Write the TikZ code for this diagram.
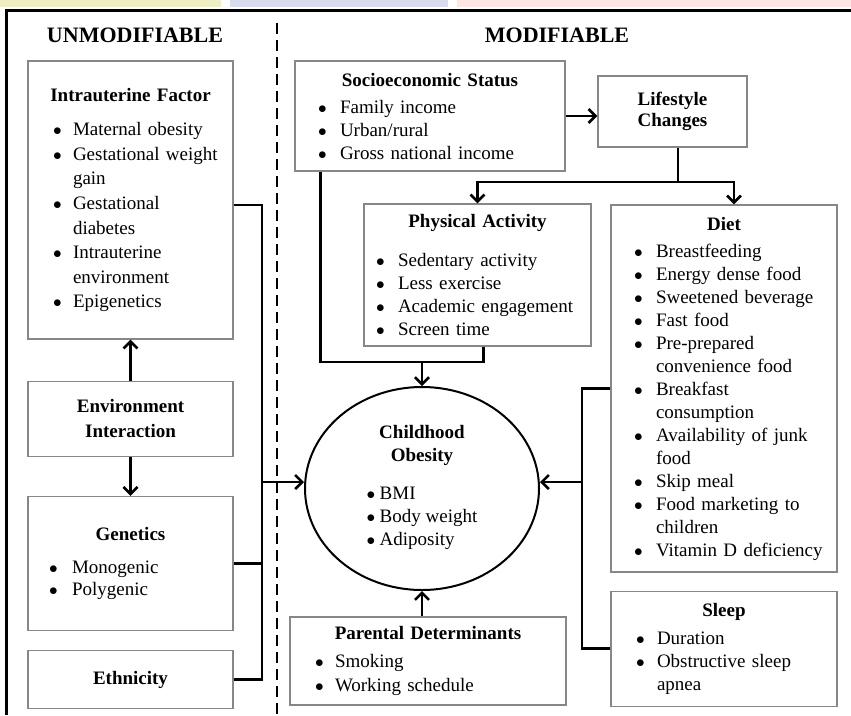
\documentclass[tikz,border=0pt]{standalone}
\usepackage{fontspec}
\setmainfont{Liberation Serif}
\usetikzlibrary{positioning, arrows.meta, calc, shapes.geometric}
\definecolor{stripyellow}{RGB}{239, 237, 194}
\definecolor{stripblue}{RGB}{217, 220, 238}
\definecolor{strippink}{RGB}{252, 230, 230}
\definecolor{boxgray}{RGB}{135, 135, 135}

\newlength{\bind}
\newlength{\bsep}
\newcommand{\dotmark}{$\bullet$}
\newcommand{\bi}{\hspace*{\bind}\makebox[\bsep][l]{\dotmark}}
\newcommand{\bc}{\hspace*{\bind}\hspace*{\bsep}}
\newcommand{\ttl}[1]{\makebox[\linewidth]{\bfseries #1}}

\begin{document}
\begin{tikzpicture}[x=1pt, y=-1pt,
    box/.style={draw=boxgray, line width=1.2pt, rectangle, inner xsep=0pt, inner ysep=3pt,
        text width=#1, align=left, font=\fontsize{19}{23}\selectfont},
    bullets/.style 2 args={execute at begin node={\setlength{\bind}{#1}\setlength{\bsep}{#2}}},
    head/.style={font=\fontsize{22}{26}\selectfont\bfseries},
    line/.style={line width=2.6pt},
    arrow/.style={line, arrows = {-{Straight Barb[length=7pt, width=14pt]}}}]
\useasboundingbox (0,0) rectangle (851,715);

% strips and frame
\fill[stripyellow] (0,0) rectangle (221,6.5);
\fill[stripblue] (230,0) rectangle (448,6.5);
\fill[strippink] (457,0) rectangle (851,6.5);
\draw[line width=3pt] (5,10.5) -- (851,10.5);
\draw[line width=3pt] (6.5,9) -- (6.5,715);
\draw[line width=2.8pt, dash pattern=on 11pt off 6pt] (277,23) -- (277,715);

\node[head] (unmod) at (135,35) {UNMODIFIABLE};
\node[head] (mod) at (557,35) {MODIFIABLE};

% unmodifiable side
\node[box=205pt, minimum height=278pt, bullets={25pt}{20pt}, font=\fontsize{19}{24.6}\selectfont] (intra) at (130.5,200) {\ttl{Intrauterine Factor}\\[10pt]
  \bi Maternal obesity\\ \bi Gestational weight\\ \bc gain\\ \bi Gestational\\ \bc diabetes\\
  \bi Intrauterine\\ \bc environment\\ \bi Epigenetics};
\node[box=205pt, minimum height=75pt, align=center, below=41pt of intra, font=\fontsize{19}{25}\selectfont\bfseries] (env) {Environment\\Interaction};
\node[box=205pt, minimum height=134pt, bullets={21pt}{23pt}, below=39pt of env, font=\fontsize{19}{22}\selectfont] (gen) {\ttl{Genetics}\\[11pt]
  \bi Monogenic\\ \bi Polygenic};
\node[box=205pt, minimum height=58pt, align=center, below=19pt of gen, font=\fontsize{19}{23}\selectfont\bfseries] (eth) {Ethnicity};

% modifiable side
\node[box=270pt, minimum height=110pt, bullets={23pt}{22pt}] (socio) at (430,116) {\ttl{Socioeconomic Status}\\[4pt]
  \bi Family income\\ \bi Urban/rural\\ \bi Gross national income};
\node[box=149pt, minimum height=71pt, align=center, font=\fontsize{19}{21}\selectfont\bfseries] (life) at (672.5,111.5) {Lifestyle\\Changes};
\node[box=227pt, minimum height=142pt, bullets={12pt}{22pt}] (pa) at (477.5,275) {\ttl{Physical Activity}\\[16pt]
  \bi Sedentary activity\\ \bi Less exercise\\ \bi Academic engagement\\ \bi Screen time};
\node[box=226pt, minimum height=367pt, bullets={23pt}{22pt}] (diet) at (724,388.5) {\ttl{Diet}\\[4pt]
  \bi Breastfeeding\\ \bi Energy dense food\\ \bi Sweetened beverage\\ \bi Fast food\\
  \bi Pre-prepared\\ \bc convenience food\\ \bi Breakfast\\ \bc consumption\\
  \bi Availability of junk\\ \bc food\\ \bi Skip meal\\ \bi Food marketing to\\ \bc children\\
  \bi Vitamin D deficiency};
\node[box=226pt, minimum height=115pt, bullets={25pt}{21pt}, below=18pt of diet] (sleep) {\ttl{Sleep}\\[5pt]
  \bi Duration\\ \bi Obstructive sleep\\ \bc apnea};
\node[box=276pt, minimum height=88pt, bullets={25pt}{20pt}, font=\fontsize{19}{24}\selectfont] (par) at (428,661) {\ttl{Parental Determinants}\\[4pt]
  \bi Smoking\\ \bi Working schedule};

\node[draw, ellipse, line width=2pt, minimum width=234pt, minimum height=203pt, inner sep=0pt,
  align=center, font=\fontsize{19}{23}\selectfont] (obes) at (422,488.5) {\textbf{Childhood}\\\textbf{Obesity}\\[15pt]
  \begin{tabular}[t]{@{}l@{}}\makebox[13pt][l]{\dotmark}BMI\\ \makebox[13pt][l]{\dotmark}Body weight\\ \makebox[13pt][l]{\dotmark}Adiposity\end{tabular}};

\coordinate (lbus) at (262,482);
\coordinate (rbus) at (582,482);
\coordinate (split) at (678,182);
\coordinate (join) at (422,362);

% connectors
\draw[arrow] (env.north) -- (intra.south);
\draw[arrow] (env.south) -- (gen.north);
\draw[line] ([yshift=-5pt]intra.east) -| (lbus);
\draw[line] (eth.east) -| (lbus);
\draw[line] (gen.east) -- (gen.east -| lbus);
\draw[arrow] (lbus) -- (lbus -| obes.west);

\draw[arrow] (socio.east) -- (socio.east -| life.west);
\draw[line] (life.south -| split) -- (split);
\draw[arrow] (split) -| (pa.north);
\draw[arrow] (split) -| ([xshift=10pt]diet.north);
\draw[line] ([xshift=26pt]socio.south west) |- (join);
\draw[line] ([xshift=6pt]pa.south) |- (join);
\draw[arrow] (join) -- (obes.north);

\draw[line] (diet.west) -| (rbus);
\draw[line] (sleep.west) -| (rbus);
\draw[arrow] (rbus) -- (rbus -| obes.east);
\draw[arrow] (par.north -| obes.south) -- (obes.south);
\end{tikzpicture}
\end{document}
